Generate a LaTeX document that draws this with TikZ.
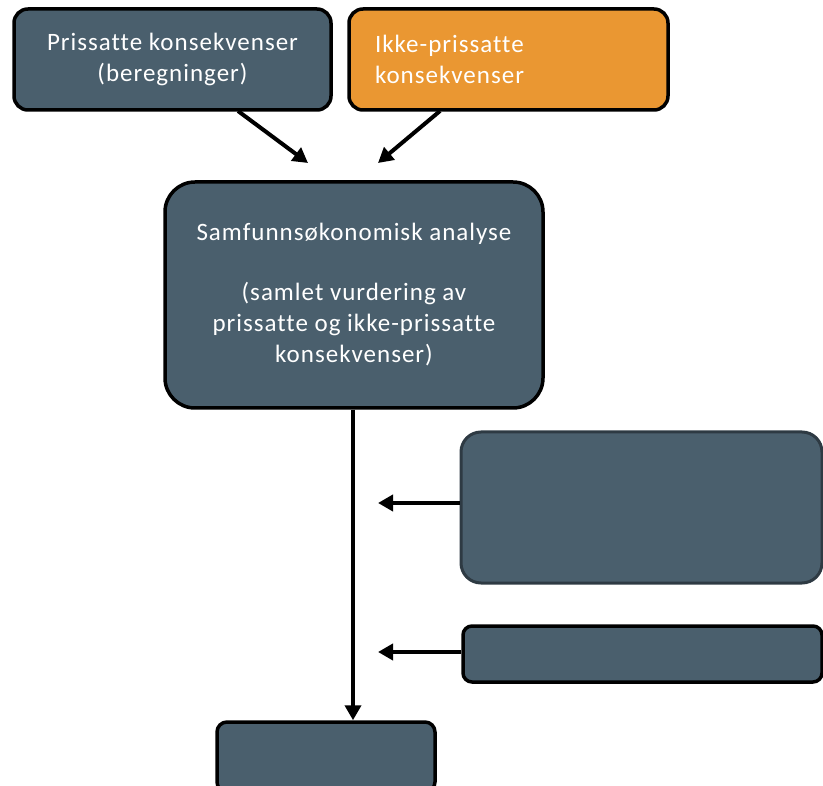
\documentclass[tikz,border=0pt]{standalone}
\usepackage{fontspec}
\setmainfont{Carlito}[LetterSpace=4,Ligatures=NoCommon]
\usetikzlibrary{arrows.meta}
\definecolor{slate}{HTML}{4A5F6D}
\definecolor{orng}{HTML}{EA9732}
\definecolor{darkedge}{HTML}{2E3A43}
\tikzset{
  box/.style={draw=black, line width=3.5pt, fill=slate, text=white, inner sep=0pt, font=\fontsize{25}{31}\selectfont},
  conn/.style={line width=4pt, -{Triangle[length=15pt,width=16pt]}, shorten >=0pt},
}
\begin{document}
\begin{tikzpicture}[x=1pt,y=-1pt]
\useasboundingbox (0,0) rectangle (823,786);
\node[box, rounded corners=14pt, minimum width=317pt, minimum height=101pt, align=center] (pris) at (172.5,59.5) {Prissatte konsekvenser\\(beregninger)};
\node[box, fill=orng, rounded corners=14pt, text width=267pt, inner xsep=26pt, minimum height=101pt, align=left] (ikke) at (508.5,59.5) {Ikke-prissatte\\konsekvenser};
\node[box, rounded corners=30pt, minimum width=378pt, minimum height=226pt, align=center] (main) at (354,295) {Samfunnsøkonomisk analyse\\[29pt](samlet vurdering av\\prissatte og ikke-prissatte\\konsekvenser)};
\node[box, draw=darkedge, line width=3pt, rounded corners=20pt, minimum width=361pt, minimum height=151pt] (boxa) at (641.5,507.5) {};
\node[box, rounded corners=9pt, minimum width=359pt, minimum height=56pt] (boxb) at (642.5,654) {};
\node[box, rounded corners=10pt, minimum width=218pt, minimum height=70pt] (bottom) at (326,757) {};
\coordinate (t1) at (308,163);
\coordinate (t2) at (378,163);
\coordinate (ta) at (378,503);
\coordinate (tb) at (378,652);
\draw[conn] (238,111) coordinate (s1) -- (t1);
\draw[conn] (440,111) coordinate (s2) -- (t2);
\draw[conn] (main.south -| 353,0) -- (bottom.north -| 353,0);
\draw[conn] ([yshift=4.5pt]boxa.west) -- (ta);
\draw[conn] ([yshift=2pt]boxb.west) -- (tb);
\end{tikzpicture}
\end{document}
